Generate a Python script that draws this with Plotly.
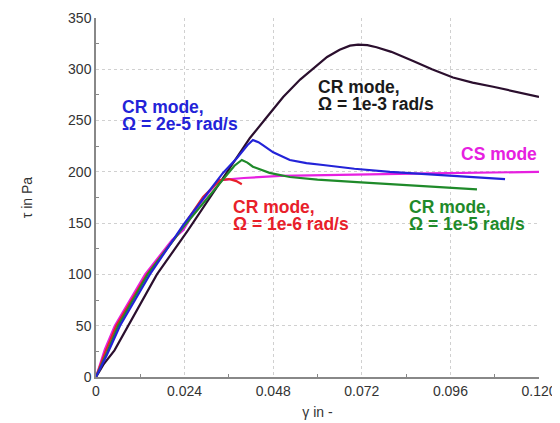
import plotly.graph_objects as go

# gamma (strain) and tau (Pa) for each test
g_1e3 = [0, 0.002, 0.005, 0.0087, 0.0165, 0.0249, 0.0336, 0.0417, 0.0463, 0.0507, 0.0553, 0.0595, 0.0626, 0.066, 0.0688, 0.071, 0.0735, 0.076, 0.080, 0.0859, 0.091, 0.0967, 0.102, 0.1076, 0.114, 0.120]
t_1e3 = [0, 12, 26, 50, 100, 143, 190, 233, 253.5, 273, 290, 303, 312, 319, 323, 324, 323.5, 321.5, 317, 308, 300, 292, 287, 283, 277.5, 273]

g_2e5 = [0, 0.003, 0.0065, 0.0146, 0.0236, 0.0344, 0.0382, 0.041, 0.0425, 0.044, 0.0452, 0.048, 0.0525, 0.057, 0.0615, 0.07, 0.0796, 0.0978, 0.1108]
t_2e5 = [0, 22, 50, 100, 148, 199, 213.5, 226, 231, 229, 226, 219, 211.6, 208.5, 206.7, 203, 200, 196, 193]

g_1e5 = [0, 0.003, 0.006, 0.014, 0.0236, 0.035, 0.0375, 0.0395, 0.041, 0.0425, 0.047, 0.0525, 0.06, 0.0707, 0.0886, 0.1032]
t_1e5 = [0, 24, 50, 100, 146, 195, 206, 211.6, 209, 205, 199, 195, 192.5, 190, 186, 183]

g_1e6 = [0, 0.0026, 0.0055, 0.0138, 0.0215, 0.029, 0.0336, 0.036, 0.038, 0.0395]
t_1e6 = [0, 25, 50, 100, 136, 175.5, 192, 193, 191, 188]

g_cs = [0, 0.0024, 0.0051, 0.0133, 0.0206, 0.0236, 0.0273, 0.031, 0.0336, 0.040, 0.050, 0.070, 0.090, 0.120]
t_cs = [0, 27, 50, 100, 133.6, 143, 165, 182, 192, 194, 196, 197.5, 198.5, 200]

x_tickvals = [0, 0.024, 0.048, 0.072, 0.096, 0.120]
x_ticktext = ["0", "0.024", "0.048", "0.072", "0.096", "0.120"]
y_tickvals = [0, 50, 100, 150, 200, 250, 300, 350]

series = [
    (g_1e3, t_1e3, "#2b0f2e", "CR 1e-3"),
    (g_cs, t_cs, "#e620e0", "CS"),
    (g_1e6, t_1e6, "#e8202a", "CR 1e-6"),
    (g_1e5, t_1e5, "#1f8a2a", "CR 1e-5"),
    (g_2e5, t_2e5, "#2323d8", "CR 2e-5"),
]

fig = go.Figure()
for gx, ty, col, nm in series:
    fig.add_trace(go.Scatter(x=gx, y=ty, mode="lines", name=nm,
                             line=dict(color=col, width=2.2)))

fnt = "Liberation Sans, Arial, sans-serif"
# (x, y of first line, lines, colour, anchor)
labels = [
    (0.0065, 263, ["CR mode,", "Ω = 2e-5 rad/s"], "#2323d8", "left"),
    (0.0597, 282.5, ["CR mode,", "Ω = 1e-3 rad/s"], "#1a1a1a", "left"),
    (0.1200, 217, ["CS mode"], "#e620e0", "right"),
    (0.0367, 166, ["CR mode,", "Ω = 1e-6 rad/s"], "#e8202a", "left"),
    (0.0843, 166, ["CR mode,", "Ω = 1e-5 rad/s"], "#1f8a2a", "left"),
]
for x, y, lines, col, al in labels:
    for i, txt in enumerate(lines):
        fig.add_annotation(x=x, y=y - i * 16.5, text="<b>" + txt + "</b>", showarrow=False,
                           xanchor=al, yanchor="middle", align="left",
                           font=dict(family=fnt, size=17.5, color=col))

# page body has an 8px margin, so the figure is 8px smaller and margins shifted
fig.update_layout(
    width=552, height=415,
    margin=dict(l=88, r=21, t=10, b=46),
    paper_bgcolor="white", plot_bgcolor="white",
    showlegend=False,
    font=dict(family=fnt, size=14, color="#333333"),
    xaxis=dict(range=[0, 0.12], tickvals=x_tickvals, ticktext=x_ticktext,
               automargin=False,
               showgrid=True, gridcolor="#d0d0d0", griddash="dot", gridwidth=1,
               showline=True, linecolor="#888888", linewidth=1.5,
               ticks="", zeroline=False,
               minor=dict(tickvals=[0.012, 0.036, 0.060, 0.084, 0.108], ticks="inside", ticklen=3, tickcolor="#888888"),
               title=dict(text="γ in -", font=dict(size=14, color="#333333"), standoff=10)),
    yaxis=dict(range=[0, 350], tickvals=y_tickvals,
               automargin=False,
               showgrid=True, gridcolor="#d0d0d0", griddash="dot", gridwidth=1,
               showline=True, linecolor="#888888", linewidth=1.5,
               ticks="", zeroline=False,
               minor=dict(tickvals=[25, 75, 125, 175, 225, 275, 325], ticks="inside", ticklen=3, tickcolor="#888888"),
               title=dict(text="τ in Pa", font=dict(size=14, color="#333333"), standoff=32)),
)

fig.write_html("out.html")
